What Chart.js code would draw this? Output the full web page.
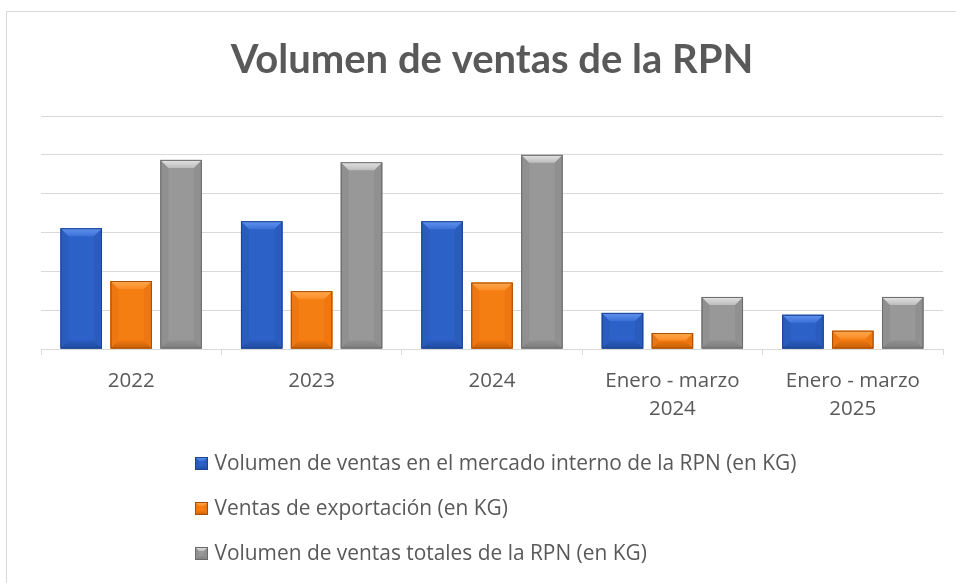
<!DOCTYPE html>
<html>
<head>
<meta charset="utf-8">
<script src="https://cdn.jsdelivr.net/npm/chart.js@4.4.1/dist/chart.umd.min.js"></script>
<style>
html,body{margin:0;padding:0;background:#fff;}
#frame{position:absolute;left:6px;top:11px;width:1000px;height:640px;border-top:1px solid #d9d9d9;border-left:1px solid #d9d9d9;}
#c{position:absolute;left:0;top:0;}
</style>
</head>
<body>
<div id="frame"></div>
<canvas id="c" width="956" height="583"></canvas>
<script>
const categories=['2022','2023','2024',['Enero - marzo','2024'],['Enero - marzo','2025']];
const seriesNames=['Volumen de ventas en el mercado interno de la RPN (en KG)','Ventas de exportación (en KG)','Volumen de ventas totales de la RPN (en KG)'];
// read against the 6 unlabelled gridlines (1 gridline = 100)
const internoVals=[311,329,329,93,88];
const exportVals=[175,149,171,41,47];
const totalVals=[487,481,500,134,134];
const yMax=600, yStep=100;
const chartTitle='Volumen de ventas de la RPN';

const palettes=[
  {body:'#2c61c8',top:'#6193ee',top2:'#3c71d8',bottom:'#1f4aa0',side:'#2a5cbe',edge:'#1c4391'},
  {body:'#f57e12',top:'#ffab50',top2:'#fb8b25',bottom:'#c65e06',side:'#ee7711',edge:'#a44d05'},
  {body:'#989898',top:'#e4e4e4',top2:'#bdbdbd',bottom:'#7c7c7c',side:'#909090',edge:'#6a6a6a'}
];

function poly(ctx,pts,fill){
  ctx.beginPath();
  ctx.moveTo(pts[0][0],pts[0][1]);
  for(let i=1;i<pts.length;i++) ctx.lineTo(pts[i][0],pts[i][1]);
  ctx.closePath();
  ctx.fillStyle=fill;
  ctx.fill();
}

// excel style bevel on a rect
function bevel(ctx,l,t,r,b,p,s){
  const h=b-t;
  s=Math.min(s,h/2,(r-l)/2);
  ctx.save();
  ctx.fillStyle=p.body; ctx.fillRect(l,t,r-l,h);
  poly(ctx,[[l,t],[l+s,t+s],[l+s,b-s],[l,b]],p.side);
  poly(ctx,[[r,t],[r-s,t+s],[r-s,b-s],[r,b]],p.side);
  const g=ctx.createLinearGradient(0,t,0,t+s);
  g.addColorStop(0,p.top); g.addColorStop(1,p.top2);
  poly(ctx,[[l,t],[r,t],[r-s,t+s],[l+s,t+s]],g);
  const gb=ctx.createLinearGradient(0,b-s,0,b);
  gb.addColorStop(0,p.side); gb.addColorStop(1,p.bottom);
  poly(ctx,[[l,b],[r,b],[r-s,b-s],[l+s,b-s]],gb);
  ctx.strokeStyle=p.edge; ctx.lineWidth=1;
  ctx.strokeRect(l+0.5,t+0.5,r-l-1,h-1);
  ctx.restore();
}

const bevelBars={
  id:'bevelBars',
  afterDatasetsDraw(chart){
    const ctx=chart.ctx;
    chart.data.datasets.forEach((ds,i)=>{
      chart.getDatasetMeta(i).data.forEach(bar=>{
        const {x,y,base,width}=bar.getProps(['x','y','base','width'],true);
        bevel(ctx,x-width/2,y,x+width/2,base,palettes[i],8);
      });
    });
  }
};

const legendX=195, legendBase=470, legendGap=45;
const listLegend={
  id:'listLegend',
  afterDraw(chart){
    const ctx=chart.ctx;
    ctx.save();
    chart.data.datasets.forEach((ds,i)=>{
      const yb=legendBase+i*legendGap;
      bevel(ctx,legendX,yb-13,legendX+13,yb,palettes[i],4);
      ctx.fillStyle='#595959';
      ctx.font='20.9px "Open Sans"';
      ctx.textBaseline='alphabetic';
      ctx.fillText(ds.label,legendX+19.5,yb);
    });
    ctx.restore();
  }
};

new Chart(document.getElementById('c'),{
  type:'bar',
  data:{
    labels:categories,
    datasets:[
      {label:seriesNames[0],data:internoVals,backgroundColor:palettes[0].body},
      {label:seriesNames[1],data:exportVals,backgroundColor:palettes[1].body},
      {label:seriesNames[2],data:totalVals,backgroundColor:palettes[2].body}
    ]
  },
  options:{
    responsive:false,
    animation:false,
    categoryPercentage:0.83,
    barPercentage:0.83,
    layout:{padding:{left:41,right:13,top:0,bottom:0}},
    plugins:{
      legend:{display:false},
      tooltip:{enabled:false},
      title:{display:true,text:chartTitle,color:'#595959',
        font:{family:'Lato',size:40,weight:'bold'},padding:{top:36,bottom:32}}
    },
    scales:{
      x:{
        grid:{drawOnChartArea:false,drawTicks:true,tickLength:6,color:'#d9d9d9',offset:true},
        border:{color:'#d9d9d9'},
        ticks:{color:'#595959',font:{family:'Open Sans',size:20.5,lineHeight:1.37},padding:12,maxRotation:0,autoSkip:false},
        afterFit(s){s.height=234;}
      },
      y:{
        min:0,max:yMax,
        ticks:{display:false,stepSize:yStep},
        grid:{color:'#d9d9d9',drawTicks:false},
        border:{display:false}
      }
    }
  },
  plugins:[bevelBars,listLegend]
});
</script>
</body>
</html>
